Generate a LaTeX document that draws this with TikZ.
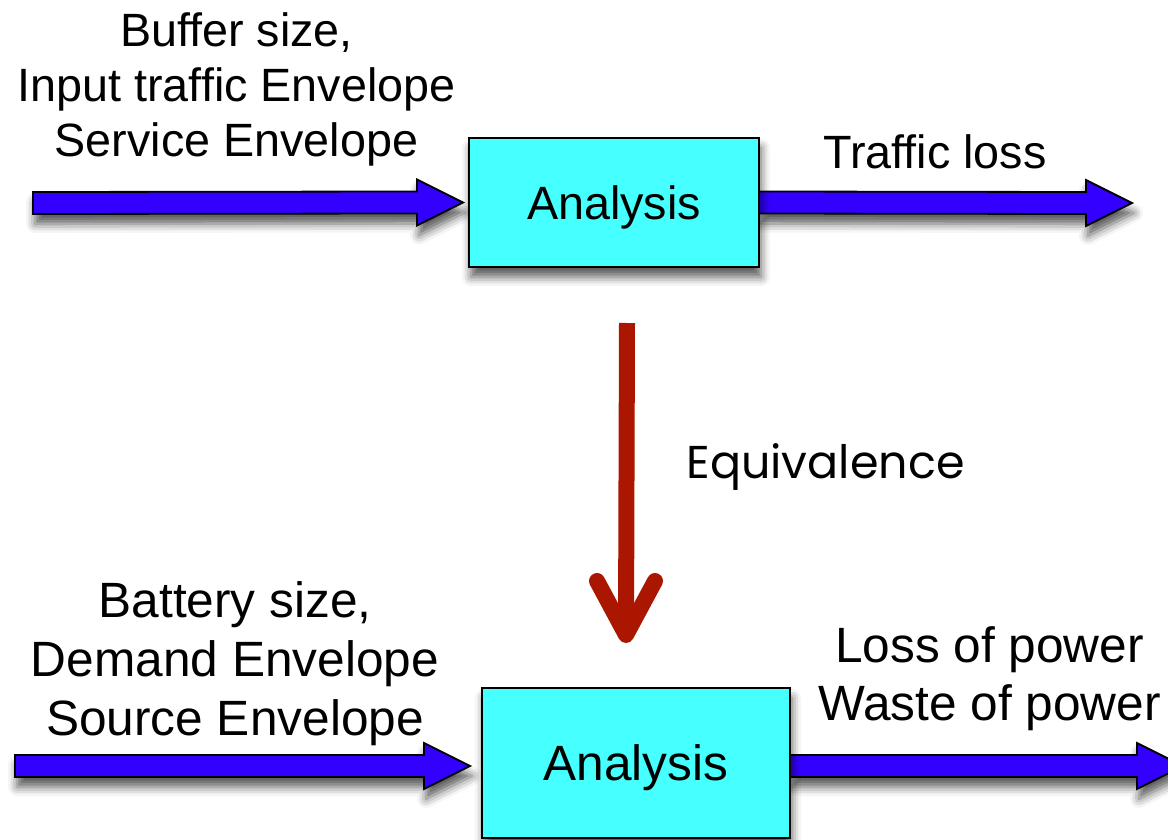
\documentclass[tikz,border=0pt]{standalone}
\usepackage{fontspec}
\setmainfont{Liberation Sans}
\newfontfamily\eqfont{Poppins}
\usetikzlibrary{calc,shadows.blur,backgrounds}
\definecolor{arrblue}{RGB}{51,0,255}
\definecolor{boxcyan}{RGB}{70,255,255}
\definecolor{eqred}{RGB}{170,22,0}
\newcommand\fatarrow[2]{%
  \draw[fatarr] ($(#1)+(0,-11)$) -- ($(#2)+(-46,-11)$) -- ($(#2)+(-46,-23)$) -- (#2)
    -- ($(#2)+(-46,23)$) -- ($(#2)+(-46,11)$) -- ($(#1)+(0,11)$) -- cycle;}
\begin{document}
\begin{tikzpicture}[x=1pt,y=-1pt,
  fatarr/.style={draw=black, line width=1.8pt, fill=arrblue, line join=miter,
    blur shadow={shadow xshift=2pt, shadow yshift=-10pt, shadow blur radius=9pt, shadow opacity=65}},
  anbox/.style={draw=black, line width=2.5pt, fill=boxcyan, inner sep=0pt, outer sep=0pt,
    text depth=0pt,
    blur shadow={shadow xshift=2pt, shadow yshift=-10pt, shadow blur radius=9pt, shadow opacity=65}},
  lbltop/.style={anchor=base, inner sep=0pt, font=\fontsize{46.7}{55}\selectfont},
  lblbot/.style={anchor=base, inner sep=0pt, font=\fontsize{49.6}{58}\selectfont},
  eqline/.style={draw=eqred, line width=16pt},
  eqhead/.style={draw=eqred, line width=16pt, line cap=round, line join=round}]
\useasboundingbox (0,0) rectangle (1168,840);
\clip (0,0) rectangle (1168,840);

% boxes
\node[anbox, minimum width=290pt, minimum height=129pt, font=\fontsize{46.7}{55}\selectfont]
  (top) at (614,202.5) {Analysis};
\node[anbox, minimum width=308pt, minimum height=150pt, font=\fontsize{49.6}{58}\selectfont]
  (bot) at (636,763) {Analysis};

% blue block arrows
\coordinate (tlstart) at (33,203);
\coordinate (tltip) at ($(top.west)+(-6,0)$);
\coordinate (trtip) at (1132,203);
\coordinate (blstart) at (15,766);
\coordinate (bltip) at ($(bot.west)+(-12,3)$);
\coordinate (brtip) at (1183,766);
\begin{pgfonlayer}{background}
\fatarrow{tlstart}{tltip}
\fatarrow{top.east}{trtip}
\fatarrow{blstart}{bltip}
\fatarrow{bot.east |- brtip}{brtip}
\end{pgfonlayer}

% labels
\node[lbltop] (t1) at (236.5,47) {Buffer size,};
\node[lbltop] (t2) at (236.5,102) {Input traffic Envelope};
\node[lbltop] (t3) at (236.5,157) {Service Envelope};
\node[lbltop] (tl) at (935,168) {Traffic loss};

\node[lblbot] (b1) at (235,617) {Battery size,};
\node[lblbot] (b2) at (235,676) {Demand Envelope};
\node[lblbot] (b3) at (235,735) {Source Envelope};
\node[lblbot] (b4) at (989.5,662) {Loss of power};
\node[lblbot] (b5) at (989.5,720) {Waste of power};

% equivalence arrow
\coordinate (eqtop) at ($(top.south)+(13,56)$);
\coordinate (eqtip) at ($(bot.north)+(-10,-53)$);
\draw[eqline] (eqtop) -- (eqtip);
\draw[eqhead] ($(eqtip)+(-29,-54)$) -- (eqtip) -- ($(eqtip)+(29,-54)$);
\node[anchor=base, inner sep=0pt, font=\eqfont\fontsize{46}{50}\selectfont] (eq) at (825.5,478) {Equivalence};
\end{tikzpicture}
\end{document}
